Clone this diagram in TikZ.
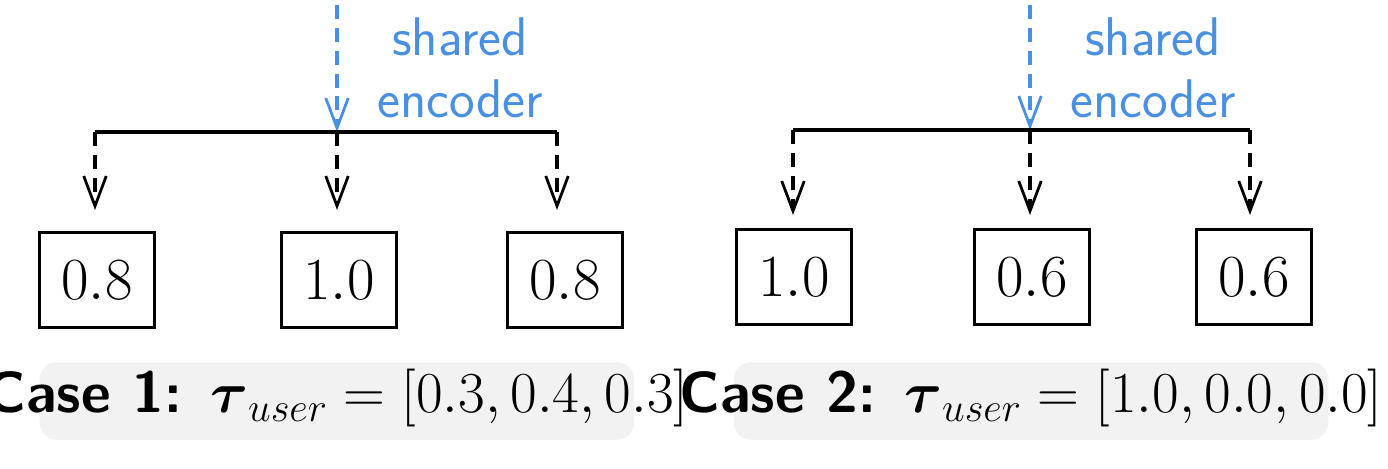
\RequirePackage{fix-cm}
\documentclass[tikz,border=0pt]{standalone}
\usepackage{amsmath,amssymb}
\usetikzlibrary{arrows.meta,positioning}
\definecolor{encblue}{RGB}{74,144,226}
\definecolor{capgray}{RGB}{242,242,242}
\tikzset{
  valbox/.style={draw,line width=1.8pt,minimum width=2.3cm,minimum height=1.9cm,inner sep=0pt,font=\fontsize{34}{40}\selectfont},
  feed/.style={line width=1.8pt,dash pattern=on 8pt off 5pt,-{Straight Barb[length=6mm,width=4.5mm,line width=1.6pt]}},
  enc/.style={encblue,line width=1.8pt,dash pattern=on 8pt off 5pt,-{Straight Barb[length=6mm,width=4.5mm,line width=1.6pt]}},
  enclabel/.style={encblue,font=\sffamily\fontsize{31}{35}\selectfont,align=center},
  capbg/.style={fill=capgray,rounded corners=10pt,minimum width=11.9cm,minimum height=1.55cm},
  captext/.style={font=\fontsize{33}{38}\selectfont}
}
\begin{document}
\begin{tikzpicture}[x=0.02cm,y=-0.02cm]
\useasboundingbox (0,0) rectangle (1388,468);
% case 1
\coordinate (ta) at (337,5);
\coordinate (ha) at (337,132);
\node[enclabel] at (460,68) {shared\\encoder};
\draw[enc] (ta) -- (ha);
\draw[line width=1.8pt] (95,132) -- (557,132);
\node[valbox] (a1) at (97,280) {$0.8$};
\node[valbox] (a2) at (339,280) {$1.0$};
\node[valbox] (a3) at (565,280) {$0.8$};
\foreach \n/\x in {a1/95,a2/337,a3/557}
  \draw[feed] (\x,132) -- (\x,210);
\node[capbg] (bga) at (337,401) {};
\node[captext] (ca) at (337,398) {\sffamily\bfseries Case 1: $\boldsymbol{\tau}_{user}=[0.3,0.4,0.3]$};
% case 2
\coordinate (tb) at (1030,5);
\coordinate (hb) at (1030,130);
\node[enclabel] at (1153,68) {shared\\encoder};
\draw[enc] (tb) -- (hb);
\draw[line width=1.8pt] (793,130) -- (1250,130);
\node[valbox] (b1) at (794,277) {$1.0$};
\node[valbox] (b2) at (1032,277) {$0.6$};
\node[valbox] (b3) at (1254,277) {$0.6$};
\foreach \x in {793,1030,1250}
  \draw[feed] (\x,130) -- (\x,215);
\node[capbg] (bgb) at (1031,401) {};
\node[captext] (cb) at (1031,398) {\sffamily\bfseries Case 2: $\boldsymbol{\tau}_{user}=[1.0,0.0,0.0]$};
\end{tikzpicture}
\end{document}
